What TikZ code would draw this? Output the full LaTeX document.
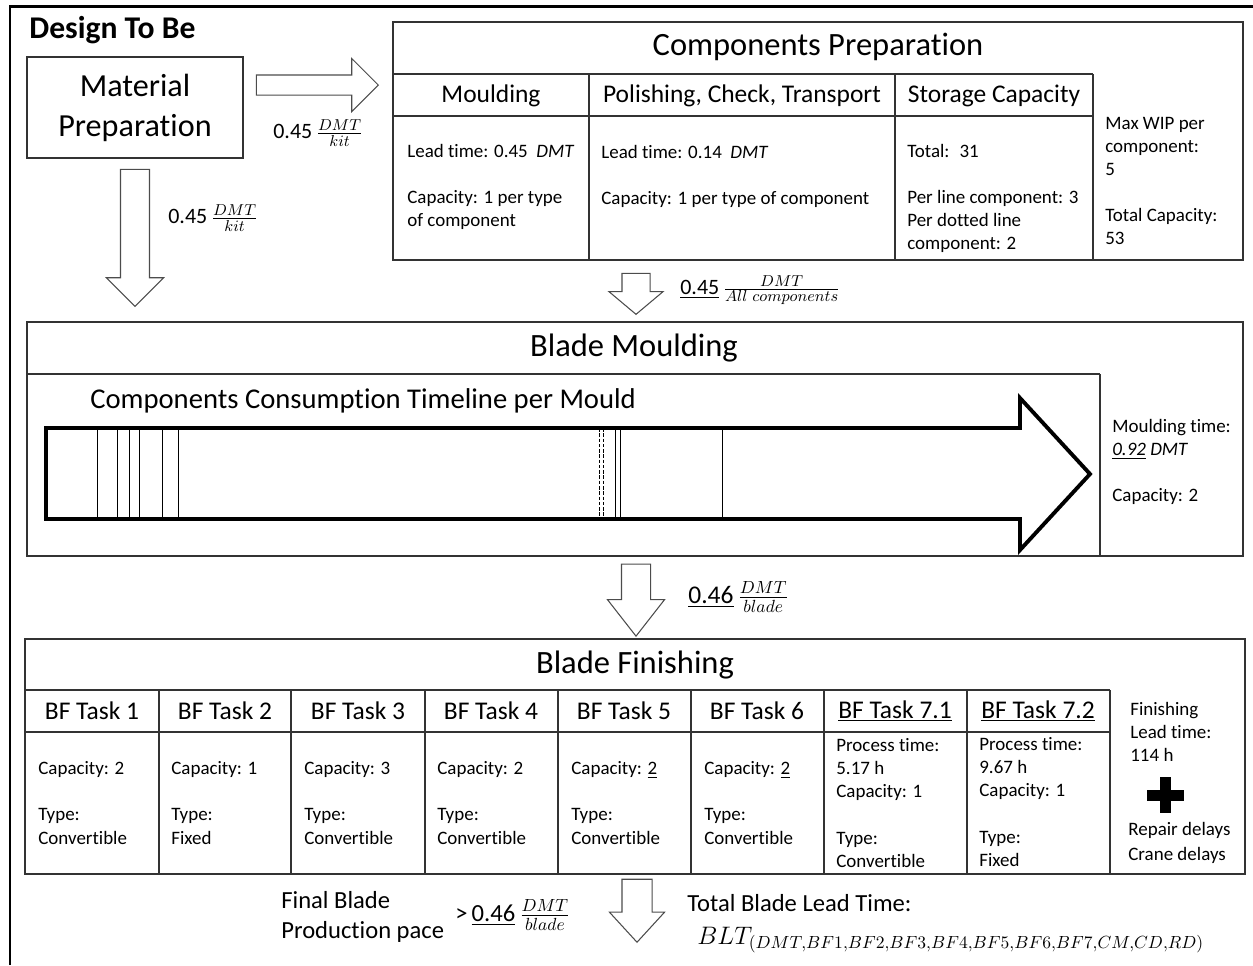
\documentclass[tikz,border=0pt]{standalone}
\usepackage{fontspec}
\setmainfont{Carlito}[Ligatures=NoCommon, Contextuals=NoAlternate]
\usetikzlibrary{shapes.arrows}
\tikzstyle{frame} = [draw=black!80, line width=0.8pt]
\tikzstyle{flow}  = [single arrow, draw=black!70, fill=white, line width=0.6pt,
                     inner sep=0pt, anchor=tip, single arrow tip angle=90]
\tikzstyle{title} = [inner sep=0pt, font=\fontsize{18.5}{22}\selectfont]
\tikzstyle{head}  = [inner sep=0pt, font=\fontsize{14.5}{17}\selectfont]
\tikzstyle{txt}   = [anchor=west, align=left, inner sep=0pt,
                     font=\fontsize{10.8}{13.1}\selectfont]
\tikzstyle{rate}  = [anchor=west, inner sep=0pt, font=\fontsize{12.5}{15}\selectfont]
\tikzstyle{big}   = [anchor=west, align=left, inner sep=0pt, font=\fontsize{14}{17}\selectfont]
\newcommand{\emptyrow}{\\[13.1pt]}
\begin{document}
\begin{tikzpicture}[x=0.02cm, y=-0.02cm]
	\useasboundingbox (0,0) rectangle (1253,965);
	\draw[line width=1.7pt] (10,965) -- (10,6) -- (1253,6);
	\node[anchor=west, inner sep=0pt, font=\bfseries\fontsize{18}{22}\selectfont] (design) at (29,30) {Design To Be};

	\node[frame, anchor=north west, outer sep=0pt, minimum width=4.32cm, minimum height=2.02cm,
		align=center, font=\fontsize{18.3}{22.8}\selectfont] (matprep) at (27,57) {Material\\Preparation};
	\node[flow, minimum height=2.44cm, inner ysep=0.19cm, single arrow head extend=0.33cm] (toprep) at (379,85) {};
	\node[rate] (rate1) at (273,133) {0.45\,$\frac{DMT}{kit}$};
	\node[flow, rotate=-90, minimum height=2.74cm, inner ysep=0.28cm, single arrow head extend=0.28cm] (tomould) at (135,307) {};
	\node[rate] (rate2) at (168,218) {0.45\,$\frac{DMT}{kit}$};

	% components preparation
	\draw[frame] (393,22) rectangle (1243,260);
	\draw[frame] (393,74) -- (1093,74) (393,116) -- (1093,116);
	\draw[frame] (589,74) -- (589,260) (895,74) -- (895,260) (1093,74) -- (1093,260);
	\node[title] (comp) at (818,47) {Components Preparation};
	\node[head] (mould) at (491,96) {Moulding};
	\node[head] (polish) at (742,96) {Polishing, Check, Transport};
	\node[head] (store) at (994,96) {Storage Capacity};
	\node[txt] (mouldtxt) at (407,187) {Lead time: 0.45 \ \textit{DMT}\emptyrow Capacity: 1 per type\\of component};
	\node[txt] (polishtxt) at (601,176) {Lead time: 0.14 \ \textit{DMT}\emptyrow Capacity: 1 per type of component};
	\node[txt] (storetxt) at (907,198) {Total: \ 31\emptyrow Per line component: 3\\Per dotted line\\component: 2};
	\node[txt] (wiptxt) at (1105,181) {Max WIP per\\component:\\5\emptyrow Total Capacity:\\53};

	\node[flow, rotate=-90, minimum height=0.82cm, inner ysep=0.27cm, single arrow head extend=0.26cm,
		single arrow tip angle=100] (tobm) at (636,315) {};
	\node[rate] (rate3) at (680,290) {\underline{0.45}\,$\frac{DMT}{All\ components}$};

	% blade moulding
	\draw[frame] (27,322) rectangle (1243,556);
	\draw[frame] (27,374) -- (1100,374) (1100,374) -- (1100,556);
	\node[title] (bm) at (634,348) {Blade Moulding};
	\node[anchor=west, inner sep=0pt, font=\fontsize{16.3}{19}\selectfont] (timeline) at (90,401) {Components Consumption Timeline per Mould};
	\draw[line width=0.5pt] (97,428) -- (97,519);
	\draw[line width=0.5pt] (117,428) -- (117,519);
	\draw[line width=0.5pt] (129,428) -- (129,519);
	\draw[line width=0.5pt] (139,428) -- (139,519);
	\draw[line width=0.5pt] (162,428) -- (162,519);
	\draw[line width=0.5pt] (178,428) -- (178,519);
	\draw[line width=0.5pt, dash pattern=on 2pt off 1pt] (599,428) -- (599,519);
	\draw[line width=0.5pt, dash pattern=on 2pt off 1pt] (603,428) -- (603,519);
	\draw[line width=0.5pt] (615,428) -- (615,519);
	\draw[line width=0.5pt] (620,428) -- (620,519);
	\draw[line width=0.5pt] (722,428) -- (722,519);
	\draw[line width=2.2pt] (46,428) -- (1020,428) -- (1020,398) -- (1090,474) -- (1020,550) -- (1020,519) -- (46,519) -- cycle;
	\node[txt] (mtime) at (1112,462) {Moulding time:\\\textit{\underline{0.92} DMT}\emptyrow Capacity: 2};

	\node[flow, rotate=-90, minimum height=1.44cm, inner ysep=0.28cm, single arrow head extend=0.28cm,
		single arrow tip angle=76] (tobf) at (636,637) {};
	\node[rate, font=\fontsize{14.5}{17}\selectfont] (rate4) at (688,597) {\underline{0.46}\,$\frac{DMT}{blade}$};

	% blade finishing
	\draw[frame] (25,639) rectangle (1245,874);
	\draw[frame] (25,690) -- (1110,690) (25,732) -- (1110,732);
	\draw[frame] (159,690) -- (159,874) (291,690) -- (291,874) (425,690) -- (425,874) (558,690) -- (558,874);
	\draw[frame] (691,690) -- (691,874) (824,690) -- (824,874) (967,690) -- (967,874) (1110,690) -- (1110,874);
	\node[title] (bf) at (635,665) {Blade Finishing};
	\node[head] (bf1) at (92,711) {BF Task 1};
	\node[head] (bf2) at (225,711) {BF Task 2};
	\node[head] (bf3) at (358,711) {BF Task 3};
	\node[head] (bf4) at (491,711) {BF Task 4};
	\node[head] (bf5) at (624,711) {BF Task 5};
	\node[head] (bf6) at (757,711) {BF Task 6};
	\node[head] (bf71) at (895,711) {\underline{BF Task 7.1}};
	\node[head] (bf72) at (1038,711) {\underline{BF Task 7.2}};
	\node[txt] (bf1txt) at (38,803) {Capacity: 2\emptyrow Type:\\Convertible};
	\node[txt] (bf2txt) at (171,803) {Capacity: 1\emptyrow Type:\\Fixed};
	\node[txt] (bf3txt) at (304,803) {Capacity: 3\emptyrow Type:\\Convertible};
	\node[txt] (bf4txt) at (437,803) {Capacity: 2\emptyrow Type:\\Convertible};
	\node[txt] (bf5txt) at (571,803) {Capacity: \underline{2}\emptyrow Type:\\Convertible};
	\node[txt] (bf6txt) at (704,803) {Capacity: \underline{2}\emptyrow Type:\\Convertible};
	\node[txt] (bf71txt) at (836,803) {Process time:\\5.17 h\\Capacity: 1\emptyrow Type:\\Convertible};
	\node[txt] (bf72txt) at (979,802) {Process time:\\9.67 h\\Capacity: 1\emptyrow Type:\\Fixed};
	\node[txt] (fintime) at (1130,732) {Finishing\\Lead time:\\114 h};
	\fill (1147,790) rectangle (1184,801);
	\fill (1160,777) rectangle (1171,813);
	\node[txt] (delays) at (1128,843) {Repair delays\\[1.2pt]Crane delays};

	% pace and lead time
	\node[flow, rotate=-90, minimum height=1.26cm, inner ysep=0.29cm, single arrow head extend=0.25cm,
		single arrow tip angle=85] (toend) at (637,943) {};
	\node[big] (pace) at (281,917) {Final Blade\\Production pace};
	\node[big] (rate5) at (455,915) {>\,\underline{0.46}\,$\frac{DMT}{blade}$};
	\node[big] (total) at (687,903) {Total Blade Lead Time:};
	\node[big] (blt) at (697,940) {$BLT_{(DMT,BF1,BF2,BF3,BF4,BF5,BF6,BF7,CM,CD,RD)}$};
\end{tikzpicture}
\end{document}
